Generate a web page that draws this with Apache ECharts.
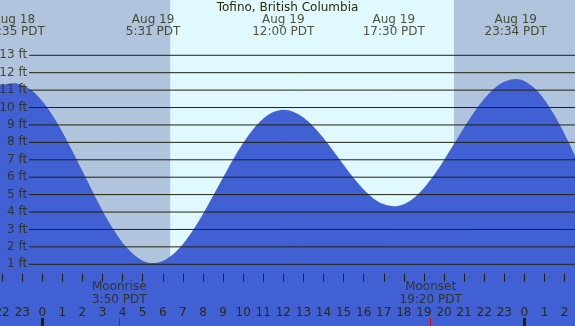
<!DOCTYPE html>
<html><head><meta charset="utf-8">
<script src="https://cdn.jsdelivr.net/npm/echarts@6/dist/echarts.min.js"></script>
<style>html,body{margin:0;padding:0;background:#b0c4de}#c{width:575px;height:326px}</style>
</head><body><div id="c"></div>
<script>
// Tide curve (hours from midnight Aug 19, PDT) and height in feet
const tideHours = [-2.2, -1.42, -1, -0.5, 0, 0.5, 1, 1.5, 2, 2.5, 3, 3.5, 4, 4.5, 5, 5.52, 6, 6.5, 7, 7.5, 8, 8.5, 9, 9.5, 10, 10.5, 11, 11.5, 12, 12.5, 13, 13.5, 14, 14.5, 15, 15.5, 16, 16.5, 17, 17.5, 18, 18.5, 19, 19.5, 20, 20.5, 21, 21.5, 22, 22.5, 23, 23.57, 24, 24.5, 25, 25.5, 26, 26.5, 27];
const tideFeet  = [11.25, 11.4, 11.31, 10.96, 10.37, 9.57, 8.6, 7.51, 6.35, 5.19, 4.08, 3.08, 2.24, 1.62, 1.21, 1.07, 1.19, 1.56, 2.15, 2.95, 3.89, 4.92, 5.98, 7.02, 7.96, 8.76, 9.36, 9.74, 9.87, 9.76, 9.43, 8.91, 8.25, 7.49, 6.71, 5.95, 5.29, 4.77, 4.44, 4.33, 4.45, 4.81, 5.38, 6.12, 6.99, 7.92, 8.86, 9.73, 10.5, 11.1, 11.48, 11.64, 11.53, 11.12, 10.45, 9.55, 8.48, 7.29, 6.07];

// High / low events
const eventHours = [-1.417, 5.517, 12.0, 17.5, 23.567];
const eventDates = ['Aug 18', 'Aug 19', 'Aug 19', 'Aug 19', 'Aug 19'];
const eventTimes = ['22:35 PDT', '5:31 PDT', '12:00 PDT', '17:30 PDT', '23:34 PDT'];

// Moon events
const moonHours = [3.833, 19.333];
const moonNames = ['Moonrise', 'Moonset'];
const moonTimes = ['3:50 PDT', '19:20 PDT'];

// Daylight (sunrise, sunset)
const daylight = [6.37, 20.5];

// Axis ticks
const hourTicks = [-2,-1,0,1,2,3,4,5,6,7,8,9,10,11,12,13,14,15,16,17,18,19,20,21,22,23,24,25,26];
const midnightTicks = [0, 24];
const ftLevels = [1,2,3,4,5,6,7,8,9,10,11,12,13];

const title = 'Tofino, British Columbia';

const X_MIN = -2.103, X_MAX = 26.52, Y_MIN = -2.543, Y_MAX = 16.174;
const LINE_START = -0.652;
const TXT = '#2b2b08';
const FONT = 'DejaVu Sans';

const chart = echarts.init(document.getElementById('c'), null, {renderer: 'canvas'});

const baseX = {type: 'value', min: X_MIN, max: X_MAX, position: 'bottom', z: 10,
  axisLine: {show: false}, splitLine: {show: false}};

const series = [];
series.push({type: 'line', data: [], z: 1, silent: true,
  markArea: {silent: true, itemStyle: {color: '#e0f8ff'},
    data: [[{xAxis: daylight[0]}, {xAxis: daylight[1]}]]}});
series.push({type: 'line', name: 'tide', z: 2, silent: true, smooth: 0.3, symbol: 'none',
  data: tideHours.map((h, i) => [h, tideFeet[i]]),
  lineStyle: {width: 0}, areaStyle: {color: '#4160d4', opacity: 1, origin: 'start'}});
ftLevels.forEach(f => {
  series.push({type: 'line', z: 3, silent: true, symbol: 'none',
    data: [[LINE_START, f], [X_MAX, f]],
    lineStyle: {color: '#22220a', width: 1}});
});
series.push({type: 'scatter', z: 4, silent: true, symbolSize: 0,
  data: ftLevels.map(f => [LINE_START, f]),
  label: {show: true, position: 'left', distance: 2, color: TXT, fontSize: 12, fontFamily: FONT,
    formatter: p => p.value[1] + ' ft'}});
series.push({type: 'scatter', z: 4, silent: true, symbolSize: 0,
  data: eventHours.map(h => [h, 14.68]),
  label: {show: true, position: 'inside', color: TXT, fontSize: 12, fontFamily: FONT, lineHeight: 12, align: 'center',
    formatter: p => eventDates[p.dataIndex] + '\n' + eventTimes[p.dataIndex]}});
series.push({type: 'scatter', z: 4, silent: true, symbolSize: 0,
  data: moonHours.map(h => [h, -0.69]),
  label: {show: true, position: 'inside', color: TXT, fontSize: 12, fontFamily: FONT, lineHeight: 13, align: 'center',
    formatter: p => moonNames[p.dataIndex] + '\n' + moonTimes[p.dataIndex]}});

chart.setOption({
  animation: false,
  title: {text: title, left: 'center', top: 2, padding: 0,
    textStyle: {color: TXT, fontSize: 12, fontWeight: 'normal', fontFamily: FONT}},
  grid: {left: 0, right: 0, top: 0, bottom: 0, show: true, backgroundColor: '#b0c4de', borderWidth: 0,
    outerBoundsMode: 'none', containLabel: false},
  xAxis: [
    Object.assign({}, baseX, {
      axisTick: {show: true, inside: true, length: 8, customValues: hourTicks, lineStyle: {color: '#22220a', width: 1}},
      axisLabel: {show: true, inside: true, margin: 7, customValues: hourTicks, color: TXT, fontSize: 12, fontFamily: FONT,
        hideOverlap: false, showMinLabel: true, showMaxLabel: true,
        formatter: v => String(((Math.round(v) % 24) + 24) % 24)}}),
    Object.assign({}, baseX, {
      axisTick: {show: true, inside: true, length: 8, customValues: midnightTicks, lineStyle: {color: '#22220a', width: 3}},
      axisLabel: {show: false}}),
    Object.assign({}, baseX, {
      axisTick: {show: true, inside: true, length: 8, customValues: moonHours, lineStyle: {color: '#e00000', width: 1}},
      axisLabel: {show: false}})
  ],
  yAxis: {type: 'value', min: Y_MIN, max: Y_MAX, show: false},
  series: series
});
</script></body></html>
